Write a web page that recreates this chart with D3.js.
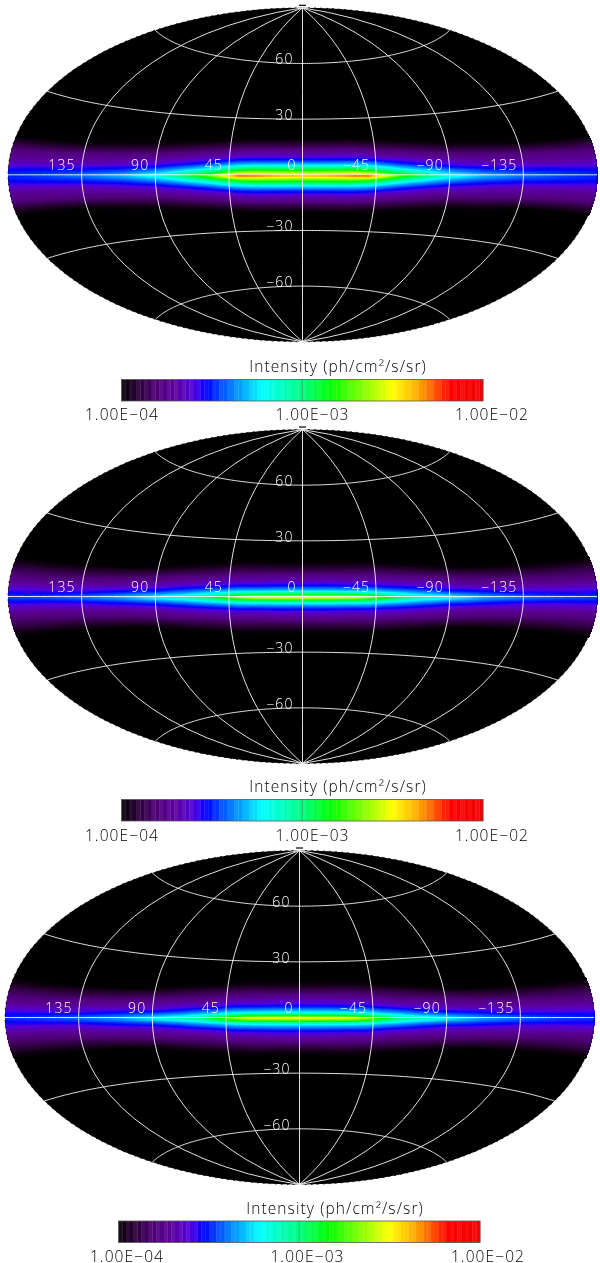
<!DOCTYPE html>
<html><head><meta charset="utf-8">
<style>
html,body{margin:0;padding:0;background:#fff;width:600px;height:1263px;overflow:hidden}
#c,#s{position:absolute;left:0;top:0}
text{font-family:"Open Sans",sans-serif;font-weight:300;letter-spacing:1.1px}
</style>
<script src="https://cdnjs.cloudflare.com/ajax/libs/d3/7.8.5/d3.min.js"></script>
</head><body>
<canvas id="c" width="600" height="1263"></canvas>
<svg id="s" width="600" height="1263"></svg>
<script>
// longitude (abs, deg) and latitude (abs, deg) of the table nodes
const lons = [0,15,30,40,50,60,75,90,110,135,160,180];
const lats = [0,1,2,3,4,6,8,10,12,14,16,18,20];
const map1 = [
[-2.36,-2.52,-2.70,-2.84,-2.98,-3.28,-3.48,-3.60,-3.70,-3.78,-3.88,-3.95,-4],
[-2.34,-2.50,-2.68,-2.82,-2.98,-3.28,-3.48,-3.60,-3.70,-3.78,-3.88,-3.95,-4],
[-2.26,-2.46,-2.66,-2.82,-2.98,-3.28,-3.48,-3.60,-3.70,-3.78,-3.88,-3.95,-4],
[-2.24,-2.46,-2.70,-2.88,-3.04,-3.32,-3.50,-3.62,-3.72,-3.80,-3.90,-3.97,-4],
[-2.52,-2.66,-2.86,-3.02,-3.16,-3.40,-3.56,-3.68,-3.76,-3.84,-3.92,-3.98,-4],
[-2.76,-2.88,-3.02,-3.16,-3.28,-3.48,-3.60,-3.70,-3.78,-3.86,-3.94,-4,-4],
[-2.98,-3.08,-3.20,-3.30,-3.40,-3.56,-3.66,-3.74,-3.82,-3.90,-3.97,-4,-4],
[-3.16,-3.24,-3.34,-3.42,-3.50,-3.62,-3.70,-3.78,-3.86,-3.94,-3.99,-4,-4],
[-3.30,-3.36,-3.44,-3.50,-3.56,-3.66,-3.74,-3.80,-3.88,-3.96,-4,-4,-4],
[-3.40,-3.44,-3.50,-3.54,-3.60,-3.70,-3.76,-3.82,-3.92,-4,-4,-4,-4],
[-3.46,-3.48,-3.52,-3.56,-3.62,-3.72,-3.76,-3.84,-3.94,-4,-4,-4,-4],
[-3.50,-3.50,-3.54,-3.58,-3.64,-3.72,-3.78,-3.84,-3.94,-4,-4,-4,-4]];
const map2 = [
[-2.52,-2.72,-2.98,-3.18,-3.32,-3.50,-3.62,-3.70,-3.78,-3.86,-3.93,-3.98,-4],
[-2.52,-2.72,-2.98,-3.18,-3.32,-3.50,-3.62,-3.70,-3.78,-3.86,-3.93,-3.98,-4],
[-2.54,-2.74,-3.00,-3.20,-3.34,-3.52,-3.64,-3.72,-3.80,-3.86,-3.93,-3.98,-4],
[-2.60,-2.80,-3.04,-3.22,-3.34,-3.52,-3.64,-3.72,-3.80,-3.86,-3.93,-3.98,-4],
[-2.82,-2.96,-3.14,-3.28,-3.40,-3.56,-3.66,-3.74,-3.82,-3.88,-3.95,-4,-4],
[-2.98,-3.08,-3.22,-3.34,-3.44,-3.58,-3.68,-3.76,-3.84,-3.90,-3.97,-4,-4],
[-3.10,-3.20,-3.32,-3.42,-3.50,-3.62,-3.72,-3.78,-3.86,-3.94,-3.99,-4,-4],
[-3.20,-3.28,-3.40,-3.50,-3.56,-3.68,-3.76,-3.82,-3.90,-3.98,-4,-4,-4],
[-3.32,-3.38,-3.48,-3.54,-3.60,-3.72,-3.78,-3.86,-3.93,-4,-4,-4,-4],
[-3.40,-3.46,-3.54,-3.60,-3.64,-3.74,-3.80,-3.88,-3.95,-4,-4,-4,-4],
[-3.44,-3.50,-3.56,-3.62,-3.66,-3.76,-3.82,-3.88,-3.96,-4,-4,-4,-4],
[-3.46,-3.50,-3.56,-3.62,-3.66,-3.76,-3.82,-3.88,-3.96,-4,-4,-4,-4]];
const map3 = [
[-2.54,-2.72,-2.96,-3.16,-3.30,-3.48,-3.60,-3.68,-3.76,-3.84,-3.91,-3.97,-4],
[-2.54,-2.72,-2.96,-3.16,-3.30,-3.48,-3.60,-3.68,-3.76,-3.84,-3.91,-3.97,-4],
[-2.56,-2.74,-2.98,-3.18,-3.32,-3.50,-3.62,-3.70,-3.78,-3.84,-3.91,-3.97,-4],
[-2.64,-2.82,-3.04,-3.22,-3.34,-3.50,-3.62,-3.70,-3.78,-3.86,-3.93,-3.98,-4],
[-2.84,-2.98,-3.16,-3.30,-3.40,-3.56,-3.66,-3.74,-3.82,-3.88,-3.95,-4,-4],
[-3.00,-3.10,-3.24,-3.36,-3.44,-3.60,-3.70,-3.78,-3.84,-3.90,-3.97,-4,-4],
[-3.12,-3.22,-3.34,-3.44,-3.52,-3.64,-3.72,-3.80,-3.86,-3.94,-3.99,-4,-4],
[-3.24,-3.30,-3.42,-3.50,-3.58,-3.68,-3.76,-3.82,-3.90,-3.98,-4,-4,-4],
[-3.34,-3.40,-3.48,-3.54,-3.60,-3.72,-3.78,-3.86,-3.93,-4,-4,-4,-4],
[-3.42,-3.46,-3.54,-3.60,-3.64,-3.74,-3.80,-3.88,-3.95,-4,-4,-4,-4],
[-3.46,-3.50,-3.56,-3.62,-3.66,-3.76,-3.82,-3.88,-3.96,-4,-4,-4,-4],
[-3.48,-3.52,-3.56,-3.62,-3.66,-3.76,-3.82,-3.88,-3.96,-4,-4,-4,-4]];
const maps = [map1,map2,map3];
const meridians = [-135,-90,-45,0,45,90,135];
const parallels = [-60,-30,0,30,60];
const lonLabels = [135,90,45,0,-45,-90,-135];
const latLabels = [60,30,-30,-60];
const tickLabels = ["1.00E\u221204","1.00E\u221203","1.00E\u221202"];
const colorTitle = "Intensity (ph/cm\u00B2/s/sr)";
const colorStops = [0,.03,.1,.15,.2,.235,.29,.39,.5,.58,.75,.82,.91,1];
const colorValues = ["#000","#200028","#50007a","#5c00a0","#5000e0","#0000ff","#0064ff","#00ffff","#00ff80","#00ff00","#ffff00","#ffaa00","#ff0000","#f00000"];
const levels = 96, mapLevels = 256;
// layout of the three panels
const panels = [
 {cx:302.5,cy:174.8,bar:[121.5,483],barY:379.5,tickX:[122,312.5,492],titleX:338,titleY:372,tickY:420},
 {cx:302.5,cy:596.5,bar:[121.5,483],barY:799.5,tickX:[122,312.5,492],titleX:338,titleY:792,tickY:841},
 {cx:299.5,cy:1017.5,bar:[118.5,480],barY:1221,tickX:[127,307.5,488],titleX:335,titleY:1214,tickY:1262}
];
const A = 294.5, B = 167;
const ky = (B/A)*2;
function aitoff(l,p){
  const a = Math.acos(Math.cos(p)*Math.cos(l/2));
  const s = a===0?1:Math.sin(a)/a;
  return [2*Math.cos(p)*Math.sin(l/2)/s, ky*Math.sin(p)/s];
}
const pos = d3.scaleLinear().domain([-4,-2]).range([0,1]).clamp(true);
const col = d3.scaleLinear().domain(colorStops).range(colorValues).interpolate(d3.interpolateRgb);
const lut = d3.range(levels).map(i=>col((i+.5)/levels));
const lutRgb = d3.range(mapLevels).map(i=>d3.rgb(col((i+.5)/mapLevels)));
const lonIdx = d3.scaleLinear().domain(lons).range(d3.range(lons.length)).clamp(true);
const latIdx = d3.scaleLinear().domain(lats).range(d3.range(lats.length)).clamp(true);
function sample(m,lon,lat){
  const u=lonIdx(Math.abs(lon)),v=latIdx(Math.abs(lat));
  const i=Math.min(Math.floor(u),lons.length-2),j=Math.min(Math.floor(v),lats.length-2);
  const fu=u-i,fv=v-j;
  return (m[i][j]*(1-fu)+m[i+1][j]*fu)*(1-fv)+(m[i][j+1]*(1-fu)+m[i+1][j+1]*fu)*fv;
}
const ctx = document.getElementById("c").getContext("2d");
const svg = d3.select("#s");
panels.forEach((P,k)=>{
  const proj = d3.geoProjection(aitoff).scale(A/Math.PI).translate([P.cx,P.cy]).reflectX(true).precision(.2);
  const pathC = d3.geoPath(proj,ctx);
  ctx.beginPath(); pathC({type:"Sphere"}); ctx.fillStyle="#000"; ctx.fill();
  const img = ctx.getImageData(0,0,600,1263), d=img.data, m=maps[k];
  for(let lon=-179.9;lon<=179.9;lon+=.25){
    for(let lat=-20;lat<=20;lat+=.1){
      const q=proj([lon,lat]), t=pos(sample(m,lon,lat));
      if(t<=0) continue;
      const c=lutRgb[Math.min(mapLevels-1,Math.floor(t*mapLevels))];
      const o=(Math.round(q[1])*600+Math.round(q[0]))*4;
      d[o]=c.r;d[o+1]=c.g;d[o+2]=c.b;d[o+3]=255;
    }
  }
  ctx.putImageData(img,0,0);
  const g = svg.append("g");
  const path = d3.geoPath(proj);
  g.append("path").datum({type:"Sphere"}).attr("d",path).attr("fill","none").attr("stroke","#000").attr("stroke-width",.8).attr("stroke-dasharray","2,4");
  const lines=[...meridians.map(l=>({type:"LineString",coordinates:[[l,-89.99],[l,0],[l,89.99]]})),
    ...parallels.map(p=>({type:"LineString",coordinates:d3.range(-179.99,180,2).concat(179.99).map(l=>[l,p])}))];
  g.selectAll("path.grid").data(lines).join("path").attr("class","grid").attr("d",path)
    .attr("fill","none").attr("stroke","#fff").attr("stroke-width",.95).attr("stroke-opacity",.92);
  g.append("line").attr("x1",P.cx-3.5).attr("x2",P.cx+3.5).attr("y1",P.cy-B-2.5).attr("y2",P.cy-B-2.5).attr("stroke","#000").attr("stroke-width",1.2);
  g.append("line").attr("x1",P.cx+A+.5).attr("x2",P.cx+A+.5).attr("y1",P.cy-4).attr("y2",P.cy+6).attr("stroke","#0000e0").attr("stroke-width",1);
  g.selectAll("text.lon").data(lonLabels).join("text").attr("class","lon")
    .attr("x",d=>proj([d,0])[0]-6).attr("y",P.cy-5).attr("text-anchor","end").attr("fill","#fff").attr("font-size",14)
    .text(d=>String(d).replace("-","\u2212"));
  g.selectAll("text.lat").data(latLabels).join("text").attr("class","lat")
    .attr("x",P.cx-9).attr("y",d=>proj([0,d])[1]+1).attr("text-anchor","end").attr("fill","#fff").attr("font-size",14)
    .text(d=>String(d).replace("-","\u2212"));
  // colour bar
  const band = d3.scaleBand().domain(d3.range(levels)).range(P.bar);
  const b = svg.append("g");
  b.selectAll("rect").data(lut).join("rect").attr("x",(d,i)=>band(i)).attr("y",P.barY).attr("width",band.bandwidth()+.3).attr("height",21.5)
    .attr("fill",d=>d).attr("opacity",(d,i)=>i%2?1:.94);
  b.append("rect").attr("x",P.bar[0]).attr("y",P.barY).attr("width",P.bar[1]-P.bar[0]).attr("height",21.5).attr("fill","none").attr("stroke","#555").attr("stroke-width",.8);
  const mid=(P.bar[0]+P.bar[1])/2;
  b.append("line").attr("x1",mid).attr("x2",mid).attr("y1",P.barY).attr("y2",P.barY+21.5).attr("stroke","#444").attr("stroke-width",.4);
  b.append("text").attr("x",P.titleX).attr("y",P.titleY).attr("text-anchor","middle").attr("font-size",15.5).attr("fill","#000").text(colorTitle);
  b.selectAll("text.t").data(tickLabels).join("text").attr("class","t").attr("x",(d,i)=>P.tickX[i]).attr("y",P.tickY).attr("text-anchor","middle").attr("font-size",15.5).attr("fill","#000").text(d=>d);
});
</script>
</body></html>
